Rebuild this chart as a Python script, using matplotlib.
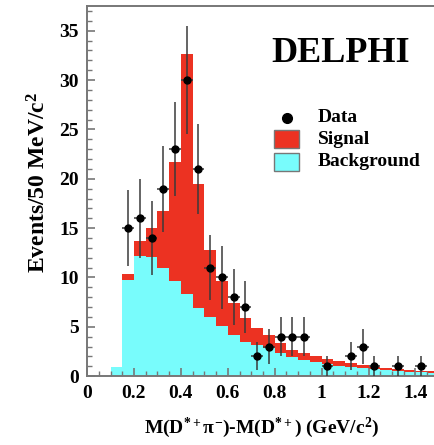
import numpy as np
import matplotlib
matplotlib.use("Agg")
import matplotlib.pyplot as plt
from matplotlib.patches import Rectangle
from matplotlib.lines import Line2D

plt.rcParams['font.family'] = ['Liberation Serif', 'DejaVu Serif']
plt.rcParams['font.weight'] = 'bold'
plt.rcParams['mathtext.fontset'] = 'custom'
plt.rcParams['mathtext.rm'] = 'Liberation Serif:bold'
plt.rcParams['mathtext.it'] = 'Liberation Serif:bold'
plt.rcParams['mathtext.bf'] = 'Liberation Serif:bold'

# ---- data ----
bin_edges = np.round(np.arange(0.10, 1.5001, 0.05), 3)
background = [0.9, 9.7, 12.2, 12.1, 11.0, 9.6, 8.3, 6.9, 6.0, 5.1, 4.2, 3.5, 3.2, 2.9,
              2.3, 1.9, 1.64, 1.4, 1.24, 1.07, 0.93, 0.8, 0.7, 0.6, 0.52, 0.45, 0.38, 0.33]
signal = [0.0, 0.7, 1.5, 2.9, 5.7, 12.1, 24.3, 12.6, 6.8, 4.5, 3.2, 2.4, 1.7, 1.3,
          1.1, 0.8, 0.66, 0.6, 0.46, 0.43, 0.37, 0.3, 0.25, 0.25, 0.23, 0.2, 0.19, 0.17]
data_x = [0.175, 0.225, 0.275, 0.325, 0.375, 0.425, 0.475, 0.525, 0.575, 0.625, 0.675,
          0.725, 0.775, 0.825, 0.875, 0.925, 1.025, 1.125, 1.175, 1.225, 1.325, 1.425]
data_y = [15, 16, 14, 19, 23, 30, 21, 11, 10, 8, 7, 2, 3, 4, 4, 4, 1, 2, 3, 1, 1, 1]
x_ticks = [0, 0.2, 0.4, 0.6, 0.8, 1.0, 1.2, 1.4]
x_ticklabels = ['0', '0.2', '0.4', '0.6', '0.8', '1', '1.2', '1.4']
y_ticks = [0, 5, 10, 15, 20, 25, 30, 35]

RED = '#EC3222'
CYAN = '#78FCFC'

W, H = 434, 445
fig = plt.figure(figsize=(W / 100, H / 100), dpi=100)

def fx(px):
    return px / W

def fy(py):
    return 1 - py / H

# axes: left spine x=87, bottom y=376, top y=6; xlim 0..1.5 (right side cropped)
x0_px, y0_px, ytop_px = 87.1, 376.2, 6.0
px_per_x = 234.5
ax = fig.add_axes([fx(x0_px), fy(y0_px), 1.5 * px_per_x / W, (y0_px - ytop_px) / H])
ax.set_xlim(0, 1.5)
ax.set_ylim(0, 37.5)

bg = np.array(background)
tot = bg + np.array(signal)
ax.stairs(tot, bin_edges, fill=True, color=RED, linewidth=0)
ax.stairs(bg, bin_edges, fill=True, color=CYAN, linewidth=0)

ax.errorbar(data_x, data_y, yerr=np.sqrt(data_y), xerr=0.025, fmt='o', color='black',
            ecolor='#3a3a3a', elinewidth=1.1, markersize=5, capsize=0, zorder=5)

for s in ['left', 'bottom', 'top', 'right']:
    ax.spines[s].set_color('#777777')
    ax.spines[s].set_linewidth(1.4)

ax.set_xticks(x_ticks)
ax.set_xticklabels(x_ticklabels)
ax.set_yticks(y_ticks)
ax.set_xticks(np.arange(0, 1.5001, 0.05), minor=True)
ax.set_yticks(np.arange(0, 37.01, 1), minor=True)
ax.tick_params(which='major', direction='in', length=6, width=1.2, color='#777777',
               labelsize=14, pad=6)
ax.tick_params(which='minor', direction='in', length=3.5, width=1.0, color='#777777')
ax.tick_params(top=False, right=False, which='both')
for lab in ax.get_xticklabels() + ax.get_yticklabels():
    lab.set_fontweight('bold')

fig.text(fx(262), fy(428), r'M(D$^{*+}\pi^{-}$)-M(D$^{*+}$) (GeV/c$^{2}$)',
         ha='center', va='center', fontsize=14, fontweight='bold')
fig.text(fx(39), fy(182), r'Events/50 MeV/c$^{2}$', rotation=90,
         ha='center', va='center', fontsize=17, fontweight='bold')

fig.text(fx(341), fy(54), 'DELPHI', ha='center', va='center', fontsize=26,
         fontweight='bold')

# legend
fig.add_artist(Line2D([fx(286.7)], [fy(118.3)], marker='o', color='black',
                      markersize=7, transform=fig.transFigure))
fig.add_artist(Rectangle((fx(274), fy(148)), fx(25), (148 - 130) / H,
                         transform=fig.transFigure, facecolor=RED,
                         edgecolor='#777777', linewidth=1))
fig.add_artist(Rectangle((fx(274), fy(171)), fx(25), (171 - 153) / H,
                         transform=fig.transFigure, facecolor=CYAN,
                         edgecolor='#777777', linewidth=1))
for label, py in [('Data', 118), ('Signal', 139), ('Background', 162)]:
    fig.text(fx(318), fy(py), label, ha='left', va='center', fontsize=14,
             fontweight='bold')

fig.savefig('out.png', dpi=100)
